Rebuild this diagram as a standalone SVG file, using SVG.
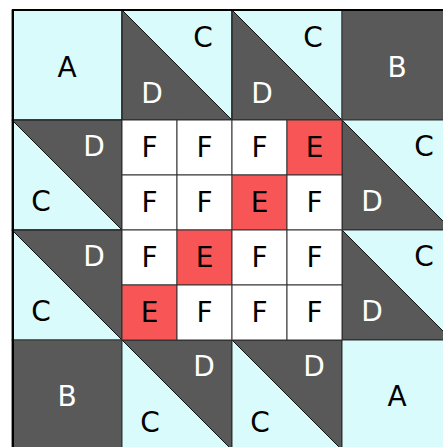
<svg xmlns="http://www.w3.org/2000/svg" width="443" height="447" viewBox="0 0 443 447">
<style>
.lt{fill:#d9fbfb;stroke:#333;stroke-width:1}
.dk{fill:#595959;stroke:#333;stroke-width:1}
.tri{fill:#595959;stroke:#111;stroke-width:1}
.wh{fill:#ffffff;stroke:#333;stroke-width:1}
.rd{fill:#f85656;stroke:#333;stroke-width:1}
text{font-family:"DejaVu Sans","Liberation Sans",sans-serif;font-size:28px;text-anchor:middle}
.b{fill:#000}
.w{fill:#fff}
</style>
<rect x="0" y="0" width="443" height="447" fill="#fff"/>
<g id="blockA1"><rect class="lt" x="12" y="10" width="110" height="110"/><text class="b" x="67" y="77">A</text></g>
<g id="blockCD1"><rect class="lt" x="122" y="10" width="110" height="110"/><polygon class="tri" points="122,10 122,120 232,120"/><text class="b" x="203" y="47">C</text><text class="w" x="152" y="103">D</text></g>
<g id="blockCD2"><rect class="lt" x="232" y="10" width="110" height="110"/><polygon class="tri" points="232,10 232,120 342,120"/><text class="b" x="313" y="47">C</text><text class="w" x="262" y="103">D</text></g>
<g id="blockB1"><rect class="dk" x="342" y="10" width="110" height="110"/><text class="w" x="397" y="77">B</text></g>
<g id="blockDC1"><rect class="lt" x="12" y="120" width="110" height="110"/><polygon class="tri" points="12,120 122,120 122,230"/><text class="w" x="94" y="156">D</text><text class="b" x="41" y="211">C</text></g>
<g id="blockDC2"><rect class="lt" x="12" y="230" width="110" height="110"/><polygon class="tri" points="12,230 122,230 122,340"/><text class="w" x="94" y="266">D</text><text class="b" x="41" y="321">C</text></g>
<g id="blockCD3"><rect class="lt" x="342" y="120" width="110" height="110"/><polygon class="tri" points="342,120 342,230 452,230"/><text class="b" x="424" y="156">C</text><text class="w" x="372" y="211">D</text></g>
<g id="blockCD4"><rect class="lt" x="342" y="230" width="110" height="110"/><polygon class="tri" points="342,230 342,340 452,340"/><text class="b" x="424" y="266">C</text><text class="w" x="372" y="321">D</text></g>
<g id="blockB2"><rect class="dk" x="12" y="340" width="110" height="110"/><text class="w" x="67" y="406">B</text></g>
<g id="blockDC3"><rect class="lt" x="122" y="340" width="110" height="110"/><polygon class="tri" points="122,340 232,340 232,450"/><text class="w" x="204" y="376">D</text><text class="b" x="150" y="432">C</text></g>
<g id="blockDC4"><rect class="lt" x="232" y="340" width="110" height="110"/><polygon class="tri" points="232,340 342,340 342,450"/><text class="w" x="314" y="376">D</text><text class="b" x="260" y="432">C</text></g>
<g id="blockA2"><rect class="lt" x="342" y="340" width="110" height="110"/><text class="b" x="397" y="406">A</text></g>
<g id="center">
<g id="r0c0"><rect class="wh" x="122" y="120" width="55" height="55"/><text class="b" x="149.5" y="157">F</text></g>
<g id="r0c1"><rect class="wh" x="177" y="120" width="55" height="55"/><text class="b" x="204.5" y="157">F</text></g>
<g id="r0c2"><rect class="wh" x="232" y="120" width="55" height="55"/><text class="b" x="259.5" y="157">F</text></g>
<g id="r0c3"><rect class="rd" x="287" y="120" width="55" height="55"/><text class="b" x="314.5" y="157">E</text></g>
<g id="r1c0"><rect class="wh" x="122" y="175" width="55" height="55"/><text class="b" x="149.5" y="212">F</text></g>
<g id="r1c1"><rect class="wh" x="177" y="175" width="55" height="55"/><text class="b" x="204.5" y="212">F</text></g>
<g id="r1c2"><rect class="rd" x="232" y="175" width="55" height="55"/><text class="b" x="259.5" y="212">E</text></g>
<g id="r1c3"><rect class="wh" x="287" y="175" width="55" height="55"/><text class="b" x="314.5" y="212">F</text></g>
<g id="r2c0"><rect class="wh" x="122" y="230" width="55" height="55"/><text class="b" x="149.5" y="267">F</text></g>
<g id="r2c1"><rect class="rd" x="177" y="230" width="55" height="55"/><text class="b" x="204.5" y="267">E</text></g>
<g id="r2c2"><rect class="wh" x="232" y="230" width="55" height="55"/><text class="b" x="259.5" y="267">F</text></g>
<g id="r2c3"><rect class="wh" x="287" y="230" width="55" height="55"/><text class="b" x="314.5" y="267">F</text></g>
<g id="r3c0"><rect class="rd" x="122" y="285" width="55" height="55"/><text class="b" x="149.5" y="322">E</text></g>
<g id="r3c1"><rect class="wh" x="177" y="285" width="55" height="55"/><text class="b" x="204.5" y="322">F</text></g>
<g id="r3c2"><rect class="wh" x="232" y="285" width="55" height="55"/><text class="b" x="259.5" y="322">F</text></g>
<g id="r3c3"><rect class="wh" x="287" y="285" width="55" height="55"/><text class="b" x="314.5" y="322">F</text></g>
</g>
<rect x="13" y="10" width="440" height="440" fill="none" stroke="#000" stroke-width="2"/>
</svg>
